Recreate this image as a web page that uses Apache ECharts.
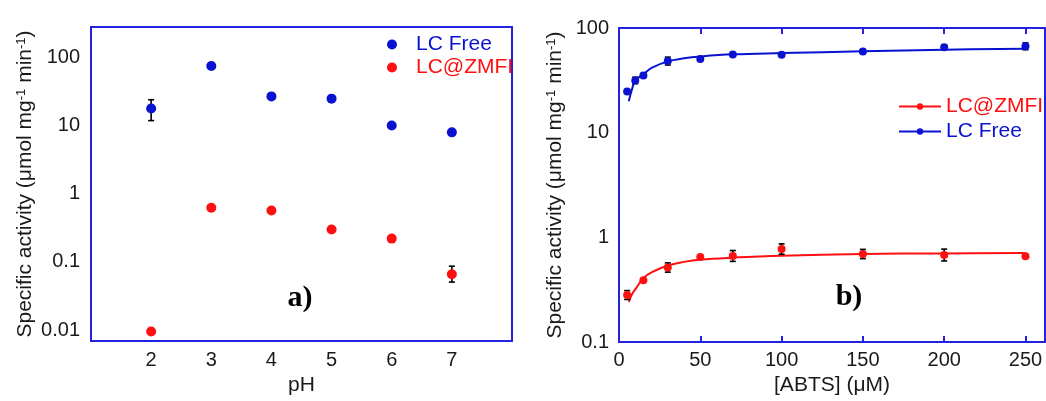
<!DOCTYPE html>
<html>
<head>
<meta charset="utf-8">
<script src="https://cdn.jsdelivr.net/npm/echarts@6/dist/echarts.min.js"></script>
<style>
html, body { margin: 0; padding: 0; background: #fff; }
#chart { width: 1046px; height: 401px; }
</style>
</head>
<body>
<div id="chart"></div>
<script>
// a) specific activity vs pH
const pH = [2, 3, 4, 5, 6, 7];
const freeByPH = [17.9, 75.5, 27.0, 25.0, 10.1, 8.0];
const zmfiByPH = [0.0095, 0.625, 0.57, 0.30, 0.22, 0.066];
// [x, low, high]
const freeByPHErr = [[2, 11.9, 24.1]];
const zmfiByPHErr = [[7, 0.0506, 0.0866]];

// b) specific activity vs [ABTS]
const abtsFree = [5, 10, 15, 30, 50, 70, 100, 150, 200, 250];
const freeByAbts = [24.7, 31.5, 35.2, 48.3, 50.5, 55.7, 55.4, 59.5, 65.4, 66.8];
const abtsZmfi = [5, 15, 30, 50, 70, 100, 150, 200, 250];
const zmfiByAbts = [0.281, 0.389, 0.515, 0.649, 0.664, 0.773, 0.693, 0.678, 0.658];
const freeByAbtsErr = [[10, 29.4, 33.9], [15, 33.7, 36.8], [30, 44.3, 52.7], [150, 56.9, 62.2], [200, 62.5, 68.4], [250, 62.0, 72.1]];
const zmfiByAbtsErr = [[5, 0.255, 0.310], [30, 0.465, 0.570], [70, 0.589, 0.748], [100, 0.689, 0.866], [150, 0.626, 0.767], [200, 0.595, 0.772]];

// fitted curves
const fitX = [6, 8, 10, 15, 20, 30, 40, 50, 70, 100, 150, 200, 250];
const freeFit = [20, 26, 31.5, 36, 41.5, 48, 51.3, 53.4, 56, 57.6, 59.8, 62, 63.5];
const zmfiFit = [0.241, 0.285, 0.318, 0.408, 0.462, 0.538, 0.583, 0.613, 0.640, 0.668, 0.693, 0.702, 0.708];

const blue = '#0a12d2';
const red = '#ff1010';
const frame = '#2222e0';
const font = 'Liberation Sans';

const zip = (xs, ys) => xs.map((x, i) => [x, ys[i]]);

function errorBars(params, api) {
  const x = api.value(0);
  const lo = api.coord([x, api.value(1)]);
  const hi = api.coord([x, api.value(2)]);
  const w = 3;
  const style = { stroke: '#000', lineWidth: 1.6 };
  return {
    type: 'group',
    children: [
      { type: 'line', shape: { x1: lo[0], y1: lo[1], x2: hi[0], y2: hi[1] }, style },
      { type: 'line', shape: { x1: lo[0] - w, y1: lo[1], x2: lo[0] + w, y2: lo[1] }, style },
      { type: 'line', shape: { x1: hi[0] - w, y1: hi[1], x2: hi[0] + w, y2: hi[1] }, style }
    ]
  };
}

const yName = 'Specific activity (μmol mg{s|-1} min{s|-1})';
const nameStyle = {
  fontFamily: font,
  fontSize: 21,
  color: '#1a1a1a',
  rich: { s: { fontSize: 13, verticalAlign: 'top', fontFamily: font, color: '#1a1a1a' } }
};
const labelStyle = { fontFamily: font, fontSize: 20, color: '#1a1a1a' };

const myChart = echarts.init(document.getElementById('chart'));
const option = {
  animation: false,
  grid: [
    { left: 91, top: 27, width: 421, height: 317, show: true, borderColor: frame, borderWidth: 2 },
    { left: 619, top: 28, width: 426, height: 319, show: true, borderColor: frame, borderWidth: 2 }
  ],
  legend: [
    {
      orient: 'vertical', left: 382, top: 29, itemWidth: 38, itemHeight: 10, itemGap: 2,
      icon: 'circle',
      textStyle: { fontFamily: font, fontSize: 21 },
      data: [
        { name: 'LC Free', textStyle: { color: blue } },
        { name: 'LC@ZMFI', textStyle: { color: red } }
      ]
    },
    {
      orient: 'vertical', left: 893, top: 91, itemWidth: 42, itemHeight: 8, itemGap: 4,
      textStyle: { fontFamily: font, fontSize: 21 },
      formatter: (n) => n.replace(' (b)', ''),
      data: [
        { name: 'LC@ZMFI (b)', textStyle: { color: red } },
        { name: 'LC Free (b)', textStyle: { color: blue } }
      ]
    }
  ],
  xAxis: [
    {
      gridIndex: 0, type: 'value', min: 1, max: 8, interval: 1,
      name: 'pH', nameLocation: 'middle', nameGap: 34, nameTextStyle: nameStyle,
      axisLine: { show: false }, axisTick: { show: false }, splitLine: { show: false },
      axisLabel: { ...labelStyle, margin: 9, showMinLabel: false, showMaxLabel: false }
    },
    {
      gridIndex: 1, type: 'value', min: 0, max: 262, interval: 50,
      name: '[ABTS] (μM)', nameLocation: 'middle', nameGap: 33, nameTextStyle: nameStyle,
      axisLine: { show: false },
      axisTick: { show: true, inside: true, length: 6, lineStyle: { color: frame, width: 2 } },
      splitLine: { show: false },
      axisLabel: { ...labelStyle, margin: 8, showMaxLabel: false }
    },
    {
      gridIndex: 1, type: 'value', min: 0, max: 262, interval: 50, position: 'top',
      axisLine: { show: false },
      axisTick: { show: true, inside: true, length: 6, lineStyle: { color: frame, width: 2 } },
      splitLine: { show: false },
      axisLabel: { show: false }
    }
  ],
  yAxis: [
    {
      gridIndex: 0, type: 'log', logBase: 10, min: 0.0069, max: 282,
      name: yName, nameLocation: 'middle', nameGap: 55, nameTextStyle: nameStyle,
      axisLine: { show: false }, axisTick: { show: false }, splitLine: { show: false },
      axisLabel: { ...labelStyle, margin: 11, showMinLabel: false, showMaxLabel: false }
    },
    {
      gridIndex: 1, type: 'log', logBase: 10, min: 0.1, max: 100,
      name: yName, nameLocation: 'middle', nameGap: 53, nameTextStyle: nameStyle,
      axisLine: { show: false }, axisTick: { show: false }, splitLine: { show: false },
      axisLabel: { ...labelStyle, margin: 10 }
    }
  ],
  series: [
    // panel a
    { type: 'custom', xAxisIndex: 0, yAxisIndex: 0, renderItem: errorBars, encode: { x: 0, y: [1, 2] }, data: freeByPHErr, z: 1 },
    { type: 'custom', xAxisIndex: 0, yAxisIndex: 0, renderItem: errorBars, encode: { x: 0, y: [1, 2] }, data: zmfiByPHErr, z: 1 },
    { name: 'LC Free', type: 'scatter', xAxisIndex: 0, yAxisIndex: 0, symbolSize: 10, itemStyle: { color: blue, opacity: 1 }, data: zip(pH, freeByPH), z: 2 },
    { name: 'LC@ZMFI', type: 'scatter', xAxisIndex: 0, yAxisIndex: 0, symbolSize: 10, itemStyle: { color: red, opacity: 1 }, data: zip(pH, zmfiByPH), z: 2 },
    // panel b
    { name: 'LC@ZMFI (b)', type: 'line', xAxisIndex: 1, yAxisIndex: 1, smooth: 0.4, symbol: 'circle', symbolSize: 7, showSymbol: false, lineStyle: { color: red, width: 2 }, itemStyle: { color: red }, data: zip(fitX, zmfiFit), z: 1 },
    { name: 'LC Free (b)', type: 'line', xAxisIndex: 1, yAxisIndex: 1, smooth: 0.4, symbol: 'circle', symbolSize: 7, showSymbol: false, lineStyle: { color: blue, width: 2 }, itemStyle: { color: blue }, data: zip(fitX, freeFit), z: 1 },
    { type: 'custom', xAxisIndex: 1, yAxisIndex: 1, renderItem: errorBars, encode: { x: 0, y: [1, 2] }, data: freeByAbtsErr, z: 2 },
    { type: 'custom', xAxisIndex: 1, yAxisIndex: 1, renderItem: errorBars, encode: { x: 0, y: [1, 2] }, data: zmfiByAbtsErr, z: 2 },
    { name: 'free pts', type: 'scatter', xAxisIndex: 1, yAxisIndex: 1, symbolSize: 8, itemStyle: { color: blue, opacity: 1 }, data: zip(abtsFree, freeByAbts), z: 3 },
    { name: 'zmfi pts', type: 'scatter', xAxisIndex: 1, yAxisIndex: 1, symbolSize: 8, itemStyle: { color: red, opacity: 1 }, data: zip(abtsZmfi, zmfiByAbts), z: 3 }
  ],
  graphic: [
    { type: 'text', x: 300, y: 298, style: { text: 'a)', font: 'bold 30px "Liberation Serif"', fill: '#000', align: 'center', verticalAlign: 'middle' } },
    { type: 'text', x: 849, y: 297, style: { text: 'b)', font: 'bold 30px "Liberation Serif"', fill: '#000', align: 'center', verticalAlign: 'middle' } }
  ]
};
myChart.setOption(option);
</script>
</body>
</html>
